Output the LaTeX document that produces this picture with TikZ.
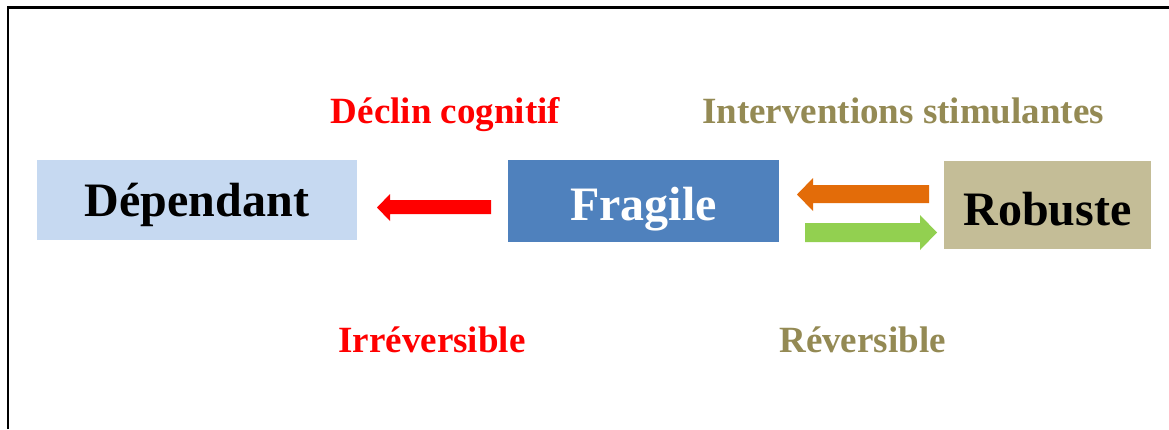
\documentclass[tikz,border=0pt]{standalone}
\usepackage{fontspec}
\setmainfont{Liberation Serif}
\definecolor{bluelight}{HTML}{C6D9F1}
\definecolor{bluemid}{HTML}{4F81BD}
\definecolor{tan}{HTML}{C4BD97}
\definecolor{olive}{HTML}{948A54}
\definecolor{orangearrow}{HTML}{E36C09}
\definecolor{greenarrow}{HTML}{92D050}
\begin{document}
\begin{tikzpicture}[x=1pt,y=-1pt,
  bigtext/.style={font=\fontsize{48}{53}\selectfont\bfseries, anchor=base},
  label/.style={font=\fontsize{37}{42}\selectfont\bfseries, anchor=base}]
\useasboundingbox (0,0) rectangle (1169,429);
\fill[white] (0,0) rectangle (1169,429);
% frame
\draw[line width=2.5pt] (8,429) -- (8,7.5) -- (1169,7.5);
% boxes
\fill[bluelight] (37,160) rectangle (357,240);
\fill[bluemid] (508,160) rectangle (779,242);
\fill[tan] (944,161) rectangle (1151,249);
\node[bigtext] (tdep) at (197,216) {Dépendant};
\node[bigtext, text=white] (tfra) at (643.5,220) {Fragile};
\node[bigtext] (trob) at (1047.5,225) {Robuste};
% arrows
\fill[red] (491,200) -- (390,200) -- (390,194) -- (377,207.5) -- (390,221) -- (390,214) -- (491,214) -- cycle;
\fill[orangearrow] (929,185) -- (813,185) -- (813,178) -- (797,194.5) -- (813,211) -- (813,203) -- (929,203) -- cycle;
\fill[greenarrow] (805,223) -- (920,223) -- (920,215) -- (937,232.5) -- (920,250) -- (920,242) -- (805,242) -- cycle;
% labels
\node[label, text=red] (decl) at (445.5,123) {Déclin cognitif};
\node[label, text=olive] (interv) at (903,123) {Interventions stimulantes};
\node[label, text=red] (irr) at (432,352) {Irréversible};
\node[label, text=olive] (rev) at (862.5,352) {Réversible};
\end{tikzpicture}
\end{document}
